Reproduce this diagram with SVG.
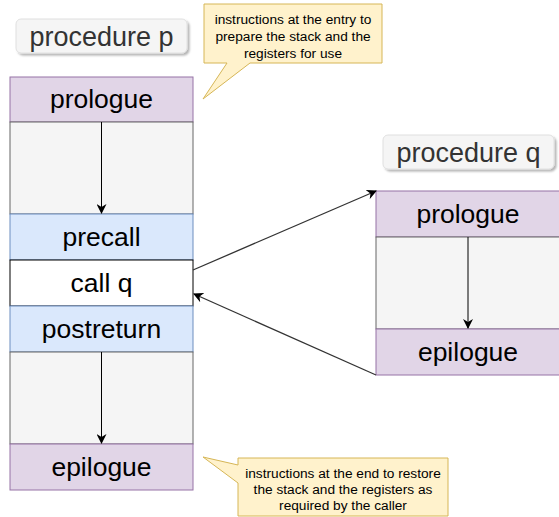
<svg xmlns="http://www.w3.org/2000/svg" width="559" height="517" viewBox="0 0 559 517">
<defs>
<marker id="ah" viewBox="0 0 10 10" refX="9" refY="5" markerWidth="10" markerHeight="10" markerUnits="userSpaceOnUse" orient="auto">
<path d="M0,0 L10,5 L0,10 L3,5 Z" fill="#000"/>
</marker>
<filter id="sh" x="-10%" y="-10%" width="130%" height="140%">
<feDropShadow dx="2" dy="2" stdDeviation="1" flood-color="#000" flood-opacity="0.3"/>
</filter>
<style>
.purple{fill:#e1d5e7;stroke:#9673a6;stroke-width:1}
.blue{fill:#dae8fc;stroke:#6c8ebf;stroke-width:1}
.gray{fill:#f5f5f5;stroke:#666666;stroke-width:1}
.white{fill:#ffffff;stroke:#000000;stroke-width:1}
.lbl{fill:#f5f5f5;stroke:#e0e0e0;stroke-width:1}
.call{fill:#fff2cc;stroke:#d6b656;stroke-width:1}
.t{font-family:"Liberation Sans",Arial,sans-serif;font-size:26.5px;text-anchor:middle;fill:#000}
.tl{font-family:"Liberation Sans",Arial,sans-serif;font-size:27px;text-anchor:middle;fill:#333333}
.ts{font-family:"Liberation Sans",Arial,sans-serif;font-size:13.7px;text-anchor:middle;fill:#000}
.edge{fill:none;stroke:#333333;stroke-width:1.3}
.vedge{fill:none;stroke:#000;stroke-width:1}
</style>
</defs>

<g id="label-p">
<rect class="lbl" x="16" y="19" width="171" height="34" rx="5" filter="url(#sh)"/>
<text class="tl" x="101.5" y="46">procedure p</text>
</g>
<g id="label-q">
<rect class="lbl" x="383" y="135" width="171" height="34" rx="5" filter="url(#sh)"/>
<text class="tl" x="468.5" y="162">procedure q</text>
</g>

<g id="p-prologue">
<rect class="purple" x="10" y="77" width="183" height="45"/>
<text class="t" x="101.5" y="108">prologue</text>
</g>
<g id="p-body1">
<rect class="gray" x="10" y="122" width="183" height="92"/>
</g>
<g id="p-precall">
<rect class="blue" x="10" y="214" width="183" height="46"/>
<text class="t" x="101.5" y="246">precall</text>
</g>
<g id="p-call">
<rect class="white" x="10" y="260" width="183" height="46"/>
<text class="t" x="101.5" y="292">call q</text>
</g>
<g id="p-postreturn">
<rect class="blue" x="10" y="306" width="183" height="46"/>
<text class="t" x="101.5" y="338">postreturn</text>
</g>
<g id="p-body2">
<rect class="gray" x="10" y="352" width="183" height="92"/>
</g>
<g id="p-epilogue">
<rect class="purple" x="10" y="444" width="183" height="46"/>
<text class="t" x="101.5" y="476">epilogue</text>
</g>

<g id="q-prologue">
<rect class="purple" x="376" y="191" width="184" height="46"/>
<text class="t" x="468" y="223">prologue</text>
</g>
<g id="q-body">
<rect class="gray" x="376" y="237" width="184" height="92"/>
</g>
<g id="q-epilogue">
<rect class="purple" x="376" y="329" width="184" height="46"/>
<text class="t" x="468" y="361">epilogue</text>
</g>

<g id="callout-entry">
<path class="call" d="M204,4 H382 V63 H250 L203,99 L227,63 H204 Z"/>
<text class="ts" x="293" y="24">instructions at the entry to</text>
<text class="ts" x="293" y="41">prepare the stack and the</text>
<text class="ts" x="293" y="58">registers for use</text>
</g>
<g id="callout-end">
<path class="call" d="M238,458 H448 V516 H238 V483 L203,457 L238,465 Z"/>
<text class="ts" x="343" y="478">instructions at the end to restore</text>
<text class="ts" x="343" y="494">the stack and the registers as</text>
<text class="ts" x="343" y="510">required by the caller</text>
</g>

<g id="connectors">
<line class="vedge" x1="101.5" y1="122" x2="101.5" y2="213" marker-end="url(#ah)"/>
<line class="vedge" x1="101.5" y1="352" x2="101.5" y2="443" marker-end="url(#ah)"/>
<line class="vedge" x1="468" y1="237" x2="468" y2="328" marker-end="url(#ah)"/>
<line class="edge" x1="193" y1="270" x2="376" y2="191" marker-end="url(#ah)"/>
<line class="edge" x1="376" y1="375" x2="194" y2="294" marker-end="url(#ah)"/>
</g>
</svg>
